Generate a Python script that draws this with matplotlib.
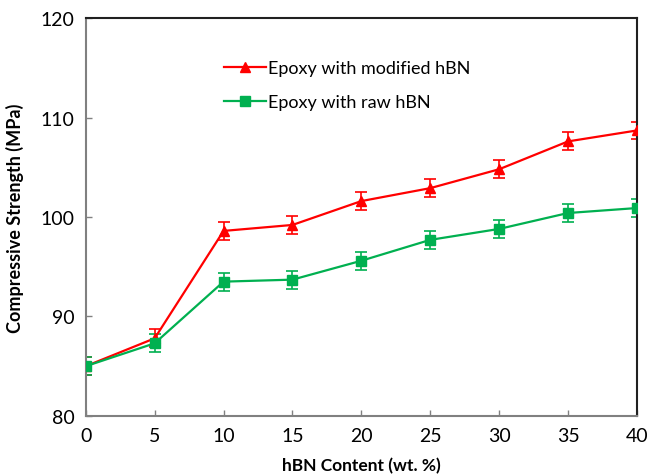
import matplotlib
matplotlib.use("Agg")
import matplotlib.pyplot as plt

plt.rcParams["font.family"] = ["Lato", "DejaVu Sans"]

hbn_content = [0, 5, 10, 15, 20, 25, 30, 35, 40]
modified_hbn = [85.0, 87.8, 98.6, 99.2, 101.6, 102.9, 104.8, 107.6, 108.7]
modified_err = [0.9, 0.9, 0.9, 0.9, 0.9, 0.9, 0.9, 0.9, 0.9]
raw_hbn = [85.0, 87.3, 93.5, 93.7, 95.6, 97.7, 98.8, 100.4, 100.9]
raw_err = [0.9, 0.9, 0.9, 0.9, 0.9, 0.9, 0.9, 0.9, 0.9]

red = "#ff0000"
green = "#00b050"

fig = plt.figure(figsize=(6.6, 4.77), dpi=100)
ax = fig.add_axes([0.130, 0.126, 0.835, 0.834])

series = [
    (modified_hbn, modified_err, red, "^", "Epoxy with modified hBN"),
    (raw_hbn, raw_err, green, "s", "Epoxy with raw hBN"),
]
for vals, errs, col, mk, lab in series:
    ax.errorbar(hbn_content, vals, yerr=errs, color=col, fmt="none",
                capsize=4, elinewidth=1.2, capthick=1.2, zorder=2)
    ax.plot(hbn_content, vals, color=col, marker=mk, markersize=7,
            linewidth=1.6, label=lab, zorder=3)

ax.set_xlim(0, 40)
ax.set_ylim(80, 120)
ax.set_xticks(range(0, 41, 5))
ax.set_yticks(range(80, 121, 10))
ax.tick_params(direction="in", length=4, labelsize=14, width=1, color="#808080", pad=8)
for side in ["left", "bottom"]:
    ax.spines[side].set_color("#808080")
    ax.spines[side].set_linewidth(1.5)
for side in ["top", "right"]:
    ax.spines[side].set_color("#202020")
    ax.spines[side].set_linewidth(1.5)

ax.set_xlabel("hBN Content (wt. %)", fontsize=12.5, fontweight="bold", labelpad=9)
ax.set_ylabel("Compressive Strength (MPa)", fontsize=13, fontweight="bold", labelpad=12)

ax.legend(loc="upper left", bbox_to_anchor=(0.222, 0.935), frameon=False, fontsize=13,
          handlelength=2.3, labelspacing=1.0, handletextpad=0.1)

fig.savefig("out.png", dpi=100)
